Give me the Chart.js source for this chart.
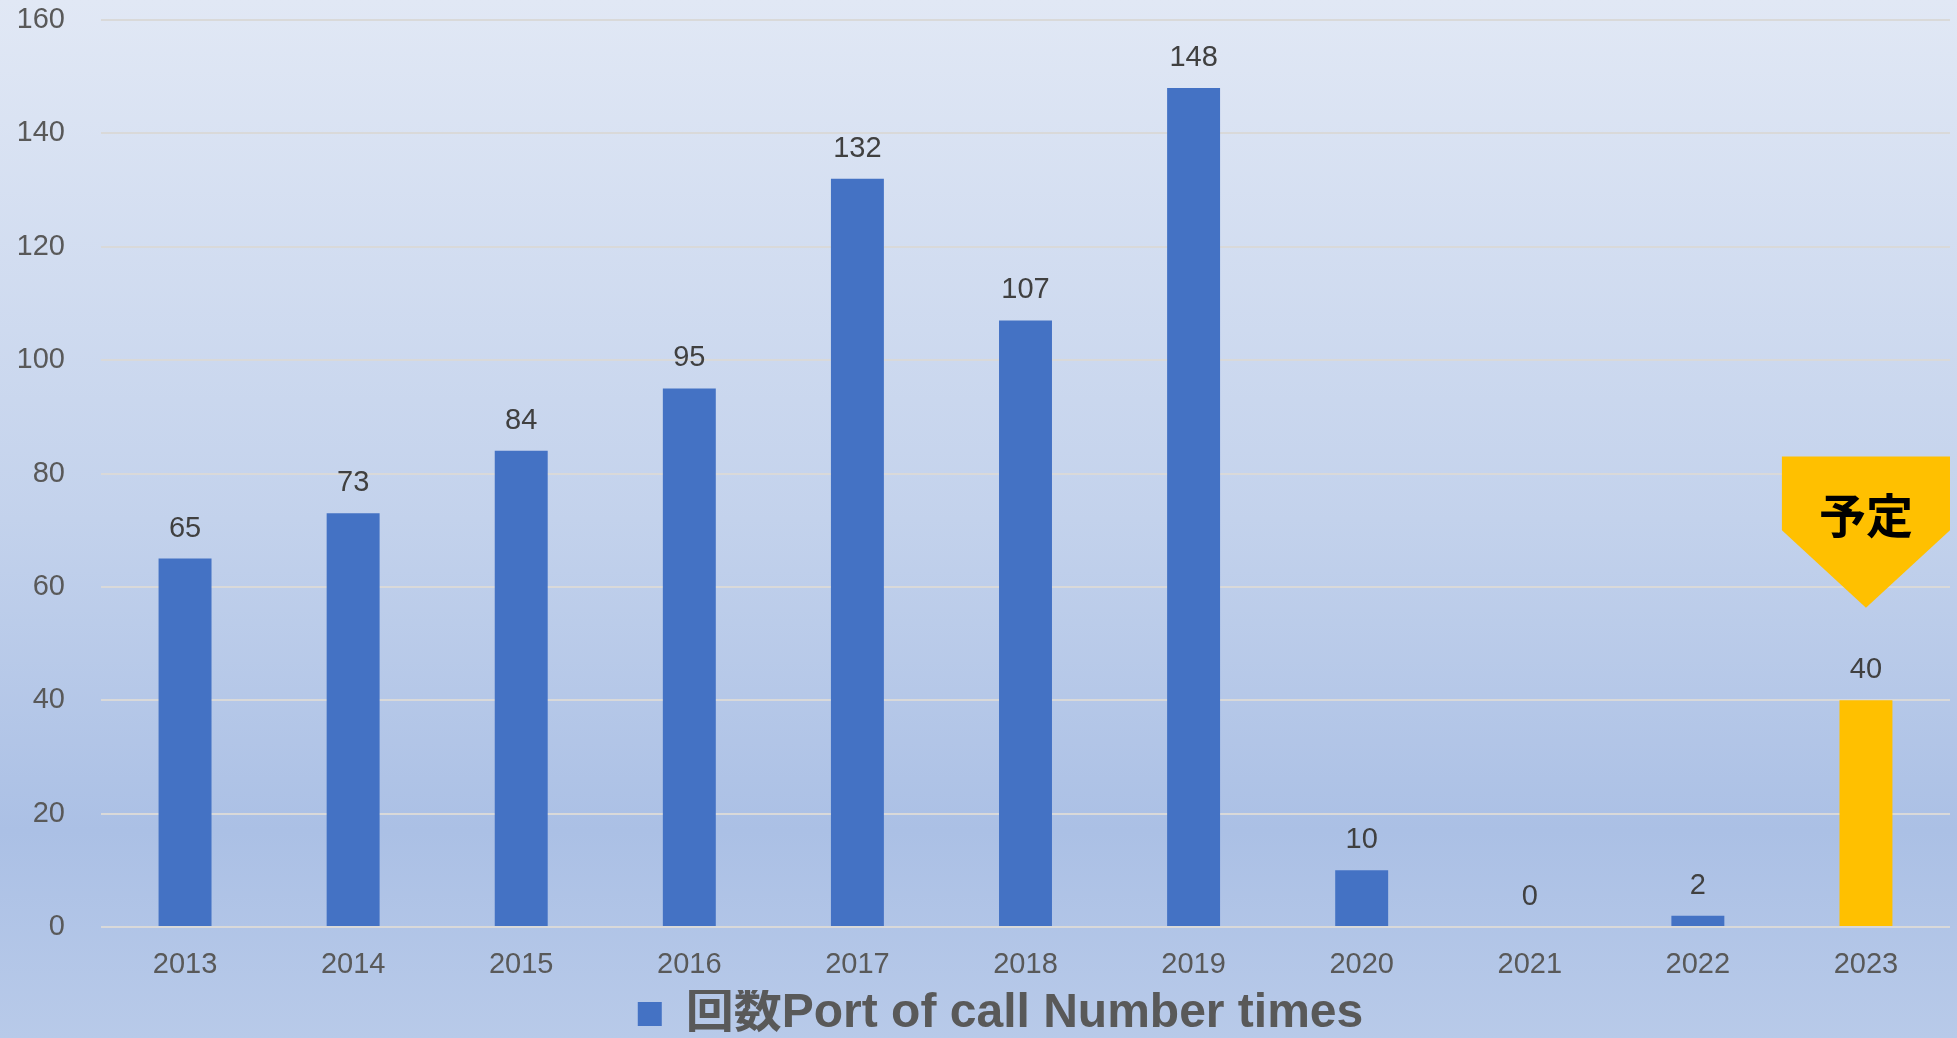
<!DOCTYPE html>
<html lang="ja">
<head>
<meta charset="utf-8">
<title>回数 Port of call</title>
<script src="https://cdn.jsdelivr.net/npm/chart.js@4.4.0/dist/chart.umd.min.js"></script>
<style>
  html, body { margin: 0; padding: 0; overflow: hidden; background: #c8d6ee; }
  #wrap { width: 1957px; height: 1038px; position: relative; }
</style>
</head>
<body>
<div id="wrap"><canvas id="chart-port"></canvas></div>
<script>
// データ
const years = ["2013", "2014", "2015", "2016", "2017", "2018", "2019", "2020", "2021", "2022", "2023"];
const portCalls = [65, 73, 84, 95, 132, 107, 148, 10, 0, 2, 40];
const yTicks = [0, 20, 40, 60, 80, 100, 120, 140, 160];
const seriesLabel = "回数Port of call Number times";
const plannedLabel = "予定";
const plannedIndex = 10; // 2023 は予定

const BLUE = "#4472c4";
const GOLD = "#ffc000";
const FONT = "'Liberation Sans', 'Noto Sans CJK JP', sans-serif";

// 背景のグラデーション
const backgroundPlugin = {
  id: "bgGradient",
  beforeDraw(chart) {
    const { ctx, width, height } = chart;
    const g = ctx.createLinearGradient(0, 0, 0, height);
    g.addColorStop(0, "#e1e8f5");
    g.addColorStop(0.5, "#c3d2ec");
    g.addColorStop(0.8, "#abc0e5");
    g.addColorStop(1, "#b8cae9");
    ctx.save();
    ctx.fillStyle = g;
    ctx.fillRect(0, 0, width, height);
    ctx.restore();
  },
};

// 凡例を少し右へずらす
const legendShiftPlugin = {
  id: "legendShift",
  afterLayout(chart) {
    if (chart.legend) {
      chart.legend.left += 16;
      chart.legend.right += 16;
    }
  },
};

// 棒の上の数値ラベル
const valueLabelPlugin = {
  id: "valueLabels",
  afterDatasetsDraw(chart) {
    const { ctx } = chart;
    const meta = chart.getDatasetMeta(0);
    ctx.save();
    ctx.font = "29px " + FONT;
    ctx.fillStyle = "#404040";
    ctx.textAlign = "center";
    ctx.textBaseline = "middle";
    meta.data.forEach((bar, i) => {
      ctx.fillText(String(portCalls[i]), bar.x, bar.y - 30);
    });
    ctx.restore();
  },
};

// 「予定」の吹き出し
const calloutPlugin = {
  id: "plannedCallout",
  afterDraw(chart) {
    const { ctx, chartArea } = chart;
    const x = chart.scales.x;
    const y = chart.scales.y;
    const cx = x.getPixelForValue(plannedIndex);
    const half = (chartArea.right - chartArea.left) / years.length / 2;
    const top = y.getPixelForValue(83);
    const mid = y.getPixelForValue(70);
    const tip = y.getPixelForValue(56.3);
    ctx.save();
    ctx.fillStyle = GOLD;
    ctx.beginPath();
    ctx.moveTo(cx - half, top);
    ctx.lineTo(cx + half, top);
    ctx.lineTo(cx + half, mid);
    ctx.lineTo(cx, tip);
    ctx.lineTo(cx - half, mid);
    ctx.closePath();
    ctx.fill();
    ctx.fillStyle = "#000000";
    ctx.font = "bold 47px 'Noto Sans CJK JP', sans-serif";
    ctx.textAlign = "center";
    ctx.textBaseline = "middle";
    ctx.fillText(plannedLabel, cx, y.getPixelForValue(72.6));
    ctx.restore();
  },
};

const canvas = document.getElementById("chart-port");
canvas.style.width = "1957px";
canvas.style.height = "1038px";

new Chart(canvas, {
  type: "bar",
  data: {
    labels: years,
    datasets: [
      {
        label: seriesLabel,
        data: portCalls,
        backgroundColor: years.map((_, i) => (i === plannedIndex ? GOLD : BLUE)),
        barPercentage: 0.315,
        categoryPercentage: 1.0,
      },
    ],
  },
  options: {
    responsive: true,
    maintainAspectRatio: false,
    animation: false,
    devicePixelRatio: 1,
    layout: { padding: { left: 19, right: 7, top: 20, bottom: -10 } },
    scales: {
      x: {
        grid: { display: false },
        border: { display: false },
        ticks: { color: "#595959", font: { size: 29, family: FONT }, padding: 13 },
        afterFit(axis) {
          axis.height = 63;
          axis.paddingLeft = 0;
          axis.paddingRight = 0;
          axis.paddingTop = 0;
          axis.paddingBottom = 0;
        },
      },
      y: {
        min: 0,
        max: 160,
        afterBuildTicks(axis) {
          axis.ticks = yTicks.map((v) => ({ value: v }));
        },
        grid: { color: "#d9d9d9", lineWidth: 2, drawTicks: false },
        border: { display: false },
        ticks: { color: "#595959", font: { size: 29, family: FONT }, padding: 36 },
        afterFit(axis) {
          axis.width = 82;
          axis.paddingLeft = 0;
          axis.paddingRight = 0;
          axis.paddingTop = 0;
          axis.paddingBottom = 0;
        },
      },
    },
    plugins: {
      tooltip: { enabled: false },
      legend: {
        position: "bottom",
        labels: {
          color: "#595959",
          font: { size: 48, weight: "bold", family: FONT },
          boxWidth: 24,
          boxHeight: 24,
          padding: 0,
          generateLabels() {
            return [
              {
                text: seriesLabel,
                fillStyle: BLUE,
                strokeStyle: BLUE,
                lineWidth: 0,
                datasetIndex: 0,
                fontColor: "#595959",
              },
            ];
          },
        },
      },
    },
  },
  plugins: [backgroundPlugin, legendShiftPlugin, valueLabelPlugin, calloutPlugin],
});
</script>
</body>
</html>
